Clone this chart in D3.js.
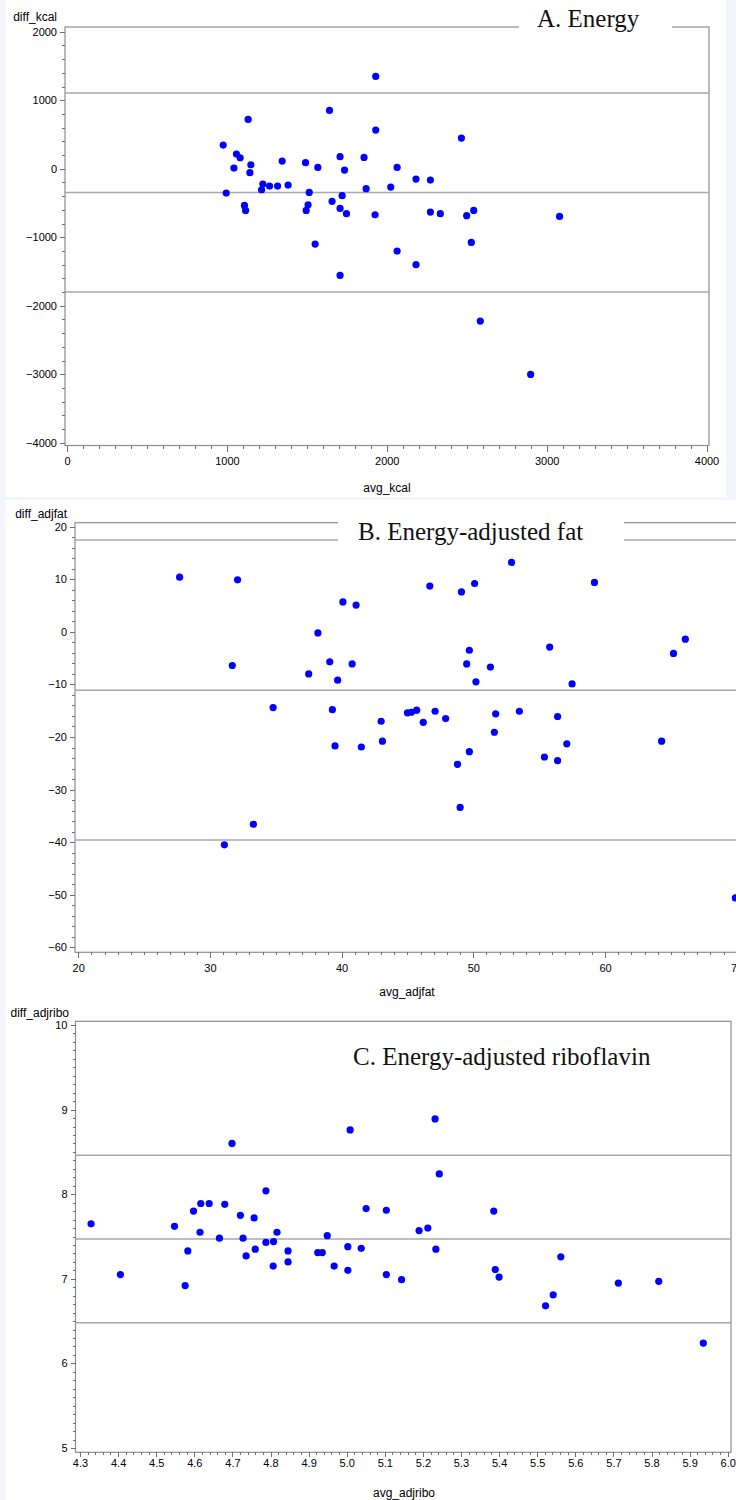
<!doctype html>
<html lang="en">
<head>
<meta charset="utf-8">
<style>
html, body {
    margin: 0;
    padding: 0;
    background: #f3f5fa;
    overflow: hidden;
}
svg { display: block; }
.axis path { display: none; }
.axis line { stroke: #6f6f6f; shape-rendering: crispEdges; }
.axis text { font-family: "Liberation Sans", Arial, sans-serif; font-size: 11px; fill: #000; }
.lab { font-family: "Liberation Sans", Arial, sans-serif; font-size: 12px; fill: #000; }
.title { font-family: "Liberation Serif", "Times New Roman", serif; font-size: 25px; fill: #111; }
</style>
</head>
<body>
<svg id="chart" width="736" height="1500"></svg>
<script src="https://cdn.jsdelivr.net/npm/d3@7/dist/d3.min.js"></script>
<script>
// A. energy (kcal): mean of the two methods vs difference
const kcalAvg = [1931, 1642, 1133, 1931, 2467, 977, 1060, 1083, 1708, 1858, 1346, 1492, 1150, 1044, 1569, 2065, 1736,
    1144, 2183, 2273, 1225, 1267, 1317, 1383, 1217, 1871, 2025, 996, 1515, 1721, 1658, 1110, 1117, 1508, 1496, 1708,
    1748, 1927, 2273, 2335, 2500, 2544, 3081, 1552, 2065, 2529, 2183, 1708, 2585, 2900];
const kcalDiff = [1347, 851, 720, 564, 447, 345, 213, 160, 175, 165, 111, 88, 58, 9, 19, 19, -20,
    -58, -152, -166, -225, -254, -254, -239, -307, -292, -268, -356, -346, -394, -477, -536, -609, -526, -609, -580,
    -657, -672, -633, -657, -686, -609, -696, -1100, -1203, -1076, -1401, -1558, -2225, -3003];
const kcalRefs = [1105, -348, -1801];
const kcalXTicks = [0, 1000, 2000, 3000, 4000];
const kcalYTicks = [-4000, -3000, -2000, -1000, 0, 1000, 2000];

// B. energy-adjusted fat
const fatAvg = [27.7, 32.1, 40.1, 41.1, 38.2, 31.7, 39.1, 40.8, 37.5, 39.7, 34.8, 39.3, 43.0, 43.1, 39.5, 41.5, 33.3,
    31.1, 52.9, 46.7, 49.1, 50.1, 59.2, 49.7, 49.5, 51.3, 50.2, 55.8, 57.5, 65.2, 66.1, 45.0, 45.3, 45.7, 46.2, 47.1,
    47.9, 51.7, 51.6, 53.5, 56.4, 57.1, 49.7, 48.8, 55.4, 56.4, 64.3, 49.0, 69.9];
const fatDiff = [10.4, 9.9, 5.7, 5.1, -0.2, -6.4, -5.7, -6.1, -8.0, -9.2, -14.4, -14.8, -17.0, -20.8, -21.7, -21.9, -36.6,
    -40.5, 13.2, 8.7, 7.6, 9.2, 9.4, -3.5, -6.1, -6.7, -9.5, -2.9, -9.9, -4.1, -1.4, -15.4, -15.3, -14.9, -17.2, -15.1,
    -16.5, -15.6, -19.1, -15.1, -16.1, -21.3, -22.8, -25.2, -23.8, -24.5, -20.8, -33.4, -50.6];
const fatRefs = [17.45, -11.1, -39.6];
const fatXTicks = [20, 30, 40, 50, 60, 70];
const fatYTicks = [-60, -50, -40, -30, -20, -10, 0, 10, 20];

// C. energy-adjusted riboflavin
const riboAvg = [4.329, 4.406, 4.548, 4.576, 4.583, 4.598, 4.617, 4.639, 4.615, 4.666, 4.680, 4.699, 4.721, 4.728,
    4.736, 4.757, 4.760, 4.788, 4.788, 4.808, 4.807, 4.817, 4.846, 4.846, 4.924, 4.936, 4.949, 4.967, 5.003, 5.003,
    5.009, 5.038, 5.051, 5.104, 5.104, 5.144, 5.190, 5.232, 5.243, 5.386, 5.213, 5.234, 5.390, 5.400, 5.562, 5.542,
    5.522, 5.713, 5.819, 5.936];
const riboDiff = [7.65, 7.05, 7.62, 6.92, 7.33, 7.80, 7.89, 7.89, 7.55, 7.48, 7.88, 8.60, 7.75, 7.48,
    7.27, 7.72, 7.35, 8.04, 7.43, 7.44, 7.15, 7.55, 7.33, 7.20, 7.31, 7.31, 7.51, 7.15, 7.38, 7.10,
    8.76, 7.36, 7.83, 7.81, 7.05, 6.99, 7.57, 8.89, 8.24, 7.80, 7.60, 7.35, 7.11, 7.02, 7.26, 6.81,
    6.68, 6.95, 6.97, 6.24];
const riboRefs = [8.46, 7.47, 6.48];
const riboXTicks = d3.range(43, 61).map(v => v / 10);
const riboYTicks = [5, 6, 7, 8, 9, 10];

const svg = d3.select('#chart');

// white panel areas on the pale backdrop
svg.append('rect').attr('x', 5).attr('y', 0).attr('width', 721).attr('height', 497).attr('fill', '#fff');
svg.append('rect').attr('x', 5).attr('y', 500).attr('width', 731).attr('height', 1000).attr('fill', '#fff');

function panel(p) {
    const g = svg.append('g');
    const [fl, ft, fr, fb] = p.frame;
    const x = d3.scaleLinear().domain(p.xDom).range(p.xRange);
    const y = d3.scaleLinear().domain(p.yDom).range(p.yRange);

    g.append('rect')
        .attr('x', fl).attr('y', ft).attr('width', fr - fl).attr('height', fb - ft)
        .attr('fill', 'none').attr('stroke', '#8e8e8e').attr('stroke-width', 1.2);

    // minor + major ticks
    g.append('g').attr('class', 'axis').attr('transform', `translate(${fl},0)`)
        .call(d3.axisLeft(y).tickValues(p.yMinor).tickSize(3).tickFormat(''));
    g.append('g').attr('class', 'axis').attr('transform', `translate(${fl},0)`)
        .call(d3.axisLeft(y).tickValues(p.yTicks).tickSize(5).tickPadding(3).tickFormat(p.yFmt));
    g.append('g').attr('class', 'axis').attr('transform', `translate(0,${fb})`)
        .call(d3.axisBottom(x).tickValues(p.xMinor).tickSize(3).tickFormat(''));
    g.append('g').attr('class', 'axis').attr('transform', `translate(0,${fb})`)
        .call(d3.axisBottom(x).tickValues(p.xTicks).tickSize(p.xTickLen).tickPadding(p.xPad).tickFormat(p.xFmt));

    // mean and limits of agreement
    g.selectAll('line.ref').data(p.refs).join('line')
        .attr('class', 'ref')
        .attr('x1', fl).attr('x2', fr)
        .attr('y1', d => y(d)).attr('y2', d => y(d))
        .attr('stroke', '#a7a9ac').attr('stroke-width', 1.5);

    if (p.titleGap)
        g.append('rect').attr('x', p.titleGap[0]).attr('y', p.titleGap[1])
            .attr('width', p.titleGap[2] - p.titleGap[0]).attr('height', p.titleGap[3] - p.titleGap[1])
            .attr('fill', '#fff');
    g.append('text').attr('class', 'title').attr('x', p.titlePos[0]).attr('y', p.titlePos[1]).text(p.title);

    g.selectAll('circle').data(p.xs).join('circle')
        .attr('cx', d => x(d)).attr('cy', (d, i) => y(p.ys[i]))
        .attr('r', 3.6).attr('fill', '#0000ff');

    g.append('text').attr('class', 'lab').attr('text-anchor', 'end')
        .attr('x', p.yLabPos[0]).attr('y', p.yLabPos[1]).text(p.yLab);
    g.append('text').attr('class', 'lab').attr('text-anchor', 'middle')
        .attr('x', p.xLabPos[0]).attr('y', p.xLabPos[1]).text(p.xLab);
}

panel({
    xs: kcalAvg, ys: kcalDiff, refs: kcalRefs,
    frame: [65, 27, 709, 445.5],
    xDom: [0, 4000], xRange: [67, 706.5],
    yDom: [-4000, 2000], yRange: [442.7, 31.7],
    xTicks: kcalXTicks, xMinor: d3.range(0, 4001, 100), xTickLen: 6, xPad: 6, xFmt: d3.format('d'),
    yTicks: kcalYTicks, yMinor: d3.range(-4000, 2001, 200), yFmt: d3.format('d'),
    title: 'A. Energy', titlePos: [537, 27], titleGap: [519, 18, 672, 31],
    yLab: 'diff_kcal', yLabPos: [57, 21],
    xLab: 'avg_kcal', xLabPos: [387, 492]
});

panel({
    xs: fatAvg, ys: fatDiff, refs: fatRefs,
    frame: [75, 522.7, 760, 952.3],
    xDom: [20, 70], xRange: [78.2, 736.7],
    yDom: [-60, 20], yRange: [947.3, 526.7],
    xTicks: fatXTicks, xMinor: d3.range(20, 71, 1), xTickLen: 6, xPad: 6, xFmt: d3.format('d'),
    yTicks: fatYTicks, yMinor: d3.range(-60, 21, 2), yFmt: d3.format('d'),
    title: 'B. Energy-adjusted fat', titlePos: [358, 539.5], titleGap: [338, 515, 624, 546],
    yLab: 'diff_adjfat', yLabPos: [67, 518],
    xLab: 'avg_adjfat', xLabPos: [407, 996]
});

panel({
    xs: riboAvg, ys: riboDiff, refs: riboRefs,
    frame: [75.5, 1021.3, 731, 1452.3],
    xDom: [4.3, 6.0], xRange: [80, 727.7],
    yDom: [5, 10], yRange: [1448, 1025],
    xTicks: riboXTicks, xMinor: d3.range(215, 301, 1).map(v => v / 50), xTickLen: 5, xPad: 2, xFmt: d3.format('.1f'),
    yTicks: riboYTicks, yMinor: d3.range(50, 101, 1).map(v => v / 10), yFmt: d3.format('d'),
    title: 'C. Energy-adjusted riboflavin', titlePos: [353, 1065], titleGap: null,
    yLab: 'diff_adjribo', yLabPos: [69, 1017],
    xLab: 'avg_adjribo', xLabPos: [404, 1497]
});
</script>
</body>
</html>
